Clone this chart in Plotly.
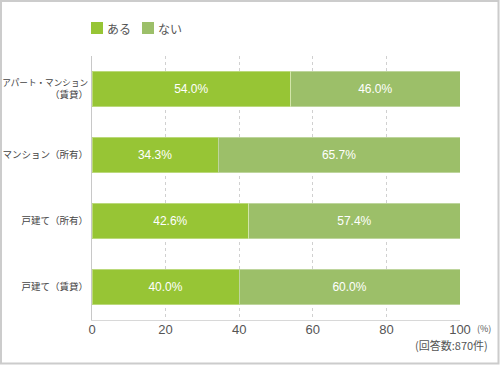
import plotly.graph_objects as go

categories = ["<span style='font-size:8.6px'>アパート・マンション</span><br>（賃貸）",
              "マンション（所有）", "戸建て（所有）", "戸建て（賃貸）"]
aru = [54.0, 34.3, 42.6, 40.0]
nai = [46.0, 65.7, 57.4, 60.0]
series_names = ["ある", "ない"]
x_ticks = [0, 20, 40, 60, 80, 100]
colors = ["#97c535", "#9cbf69"]

L, R, T, B = 92, 40, 56, 45
W, H = 500, 365
pw, ph = W - L - R, H - T - B

FONT = "Liberation Sans, Noto Sans CJK JP, sans-serif"
JP = "Noto Sans CJK JP, sans-serif"


def px_x(p):
    return (p - L) / pw


def px_y(p):
    return (H - B - p) / ph


fig = go.Figure()
for name, vals, col in [(series_names[0], aru, colors[0]), (series_names[1], nai, colors[1])]:
    fig.add_trace(go.Bar(
        y=categories, x=vals, name=name, orientation="h",
        marker=dict(color=col, line=dict(color="rgba(255,255,255,0.35)", width=1)),
        text=[f"{v:.1f}%" for v in vals], textposition="inside",
        insidetextanchor="middle",
        textfont=dict(color="white", size=12, family=FONT),
        hoverinfo="skip", showlegend=False,
    ))

fig.update_layout(
    width=W, height=H, barmode="stack", bargap=0.455,
    margin=dict(l=L, r=R, t=T, b=B, autoexpand=False),
    paper_bgcolor="white", plot_bgcolor="white",
    font=dict(family=FONT, color="#444"),
    showlegend=False,
    xaxis=dict(range=[0, 100], tickvals=x_ticks, showgrid=True,
               gridcolor="#d0d0d0", griddash="dot", gridwidth=1,
               zeroline=False, showline=True, linecolor="#d8d8d8", linewidth=1,
               tickfont=dict(size=13, color="#555", family=FONT), ticks="", ticklen=0,
               ticklabelstandoff=-3, fixedrange=True),
    yaxis=dict(autorange="reversed", showline=True, linecolor="#c8c8c8", linewidth=1,
               tickfont=dict(size=9.5, color="#444", family=JP),
               ticks="", ticklabelstandoff=1, fixedrange=True),
)

# custom legend
lx = [91, 142]
for name, col, x0 in zip(series_names, colors, lx):
    fig.add_shape(type="rect", xref="paper", yref="paper",
                  x0=px_x(x0), x1=px_x(x0 + 12), y0=px_y(34), y1=px_y(22),
                  line=dict(width=0), fillcolor=col)
    fig.add_annotation(xref="paper", yref="paper", x=px_x(x0 + 14), y=px_y(28),
                       text=name, showarrow=False, xanchor="left", yanchor="middle",
                       font=dict(size=12, color="#555", family=JP))

fig.add_annotation(xref="paper", yref="paper", x=px_x(475), y=px_y(328),
                   text="(%)", showarrow=False, xanchor="left", yanchor="middle",
                   font=dict(size=9, color="#555", family=JP))
fig.add_annotation(xref="paper", yref="paper", x=px_x(490), y=px_y(345),
                   text="(回答数:870件)", showarrow=False, xanchor="right", yanchor="middle",
                   font=dict(size=11, color="#555", family=JP))

# outer frame
fig.add_shape(type="rect", xref="paper", yref="paper", layer="above",
              x0=px_x(1), x1=px_x(W - 1.5),
              y0=px_y(H - 1.5), y1=px_y(1),
              line=dict(color="#cccccc", width=2), fillcolor="rgba(0,0,0,0)")

fig.write_html("out.html", config={"displayModeBar": False},
               post_script="document.body.style.margin='0';document.body.style.padding='0';")
